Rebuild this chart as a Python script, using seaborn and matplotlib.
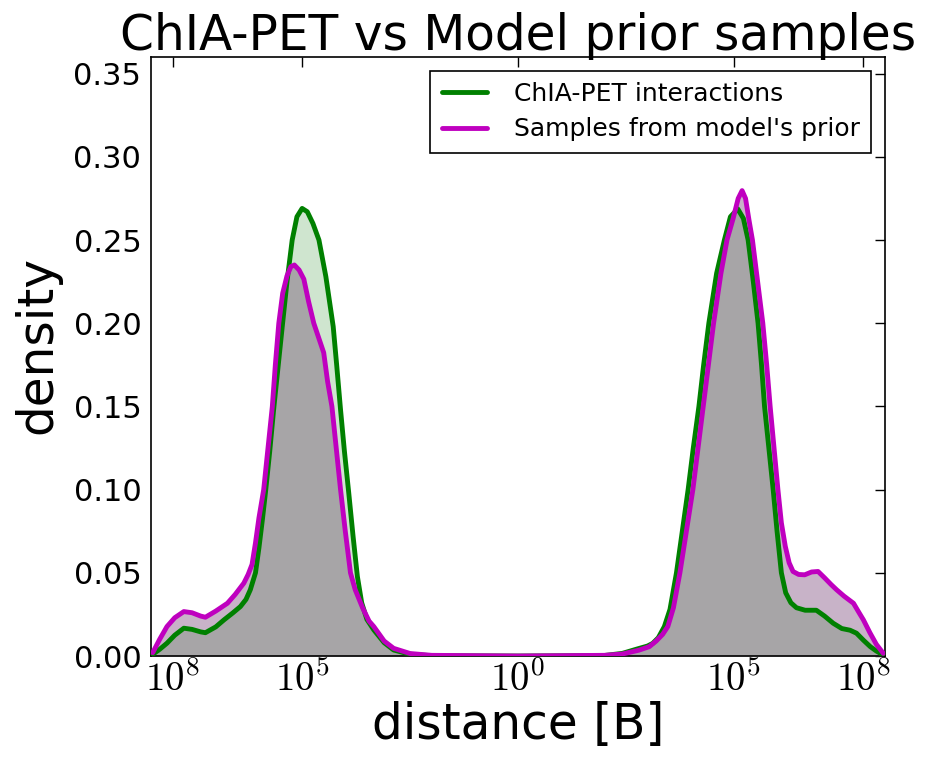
import numpy as np
import matplotlib
matplotlib.use("Agg")
import matplotlib.pyplot as plt
import seaborn as sns

# ---- data (signed log10 distance, density) ----
green_x = [-8.46, -8.3, -8.13, -7.95, -7.74, -7.55, -7.35, -7.24, -7.0, -6.81, -6.6, -6.43, -6.3,
           -6.2, -6.08, -6.0, -5.92, -5.85, -5.75, -5.66, -5.56, -5.46, -5.35, -5.23, -5.12, -5.0,
           -4.88, -4.75, -4.61, -4.45, -4.28, -4.2, -4.11, -4.02, -3.92, -3.82, -3.72, -3.62, -3.5,
           -3.34, -3.1, -2.88, -2.5, -2.0, 0.0,
           2.0, 2.42, 2.73, 3.0, 3.12, 3.25, 3.39, 3.52, 3.67, 3.8, 3.94, 4.06, 4.19, 4.30, 4.42,
           4.60, 4.78, 4.92, 5.09, 5.22, 5.33, 5.45, 5.56, 5.64, 5.71, 5.81, 5.91, 6.0, 6.10, 6.2,
           6.32, 6.45, 6.65, 6.91, 7.1, 7.30, 7.5, 7.69, 7.84, 8.0, 8.16, 8.3, 8.46]
green_y = [0.001, 0.004, 0.0077, 0.0125, 0.0167, 0.0160, 0.0145, 0.0140, 0.0175, 0.0217, 0.026, 0.0297, 0.034,
           0.0398, 0.050, 0.065, 0.082, 0.098, 0.123, 0.148, 0.173, 0.198, 0.225, 0.250, 0.264, 0.269,
           0.267, 0.260, 0.250, 0.228, 0.198, 0.175, 0.148, 0.123, 0.098, 0.072, 0.0478, 0.032, 0.022,
           0.0157, 0.008, 0.0036, 0.0010, 0.0002, 0.0,
           0.0003, 0.0016, 0.004, 0.006, 0.0076, 0.011, 0.0177, 0.028, 0.050, 0.074, 0.10, 0.125, 0.15, 0.175, 0.20,
           0.23, 0.25, 0.264, 0.2687, 0.263, 0.25, 0.225, 0.20, 0.175, 0.15, 0.125, 0.10, 0.075, 0.05, 0.038,
           0.032, 0.029, 0.0275, 0.0275, 0.024, 0.0197, 0.0165, 0.0155, 0.0137, 0.0095, 0.0056, 0.003, 0.0006]

magenta_x = [-8.46, -8.3, -8.13, -7.95, -7.74, -7.55, -7.35, -7.24, -7.0, -6.73, -6.55, -6.35, -6.25,
             -6.16, -6.08, -6.0, -5.89, -5.79, -5.69, -5.62, -5.54, -5.45, -5.35, -5.26, -5.18, -5.07,
             -4.96, -4.85, -4.73, -4.6, -4.5, -4.41, -4.31, -4.21, -4.11, -4.0, -3.88, -3.77, -3.6,
             -3.45, -3.34, -3.1, -2.88, -2.5, -2.0, 0.0,
             2.0, 2.42, 2.8, 3.04, 3.2, 3.35, 3.47, 3.6, 3.75, 3.9, 4.05, 4.17, 4.29, 4.41, 4.53,
             4.70, 4.84, 4.98, 5.10, 5.19, 5.27, 5.35, 5.43, 5.55, 5.67, 5.76, 5.84, 5.93, 6.02, 6.10,
             6.19, 6.28, 6.37, 6.5, 6.64, 6.8, 6.95, 7.1, 7.25, 7.38, 7.55, 7.77, 7.9, 8.0, 8.15, 8.3, 8.46]
magenta_y = [0.002, 0.010, 0.0177, 0.023, 0.0267, 0.026, 0.024, 0.0233, 0.027, 0.0317, 0.037, 0.0438, 0.049,
             0.055, 0.068, 0.083, 0.10, 0.125, 0.15, 0.175, 0.20, 0.218, 0.2285, 0.234, 0.235, 0.232,
             0.2265, 0.213, 0.20, 0.19, 0.1823, 0.165, 0.15, 0.125, 0.10, 0.075, 0.05, 0.0398, 0.029,
             0.021, 0.0177, 0.009, 0.0046, 0.0015, 0.0004, 0.0,
             0.0004, 0.0012, 0.0035, 0.0056, 0.009, 0.013, 0.0177, 0.029, 0.05, 0.075, 0.10, 0.125, 0.15, 0.175, 0.20,
             0.23, 0.25, 0.2627, 0.275, 0.2797, 0.275, 0.262, 0.25, 0.225, 0.20, 0.175, 0.15, 0.125, 0.10, 0.08,
             0.066, 0.056, 0.0508, 0.0490, 0.0488, 0.0505, 0.0508, 0.047, 0.043, 0.0398, 0.036, 0.0317, 0.026, 0.0217,
             0.014, 0.007, 0.0016]

series_labels = ["ChIA-PET interactions", "Samples from model's prior"]
xtick_pos = [-8, -5, 0, 5, 8]
xtick_labels = [r"$10^{8}$", r"$10^{5}$", r"$10^{0}$", r"$10^{5}$", r"$10^{8}$"]
ytick_pos = [0.00, 0.05, 0.10, 0.15, 0.20, 0.25, 0.30, 0.35]

# ---- style ----
sns.set_style("white")
plt.rcParams['font.family'] = ['DejaVu Sans']
plt.rcParams['mathtext.fontset'] = 'cm'
for k in ['text.color', 'axes.labelcolor', 'xtick.color', 'ytick.color', 'axes.edgecolor']:
    plt.rcParams[k] = 'black'

fig = plt.figure(figsize=(9.26, 7.58), dpi=100)
ax = fig.add_axes([151 / 926, 1 - 656 / 758, (885 - 151) / 926, (656 - 57) / 758])

LG = "#cfe5cf"
LP = "#c8b3c8"
GRAY = "#a7a5a7"

ax.fill_between(green_x, 0, green_y, color=LG, lw=0, zorder=1)
fm = ax.fill_between(magenta_x, 0, magenta_y, color=LP, lw=0, zorder=1.1)
fo = ax.fill_between(green_x, 0, green_y, color=GRAY, lw=0, zorder=1.2)
fo.set_clip_path(fm.get_paths()[0], ax.transData)

sns.lineplot(x=green_x, y=green_y, color="green", lw=3.5, label=series_labels[0],
             ax=ax, sort=False, estimator=None, zorder=3)
sns.lineplot(x=magenta_x, y=magenta_y, color="#bf00bf", lw=3.5, label=series_labels[1],
             ax=ax, sort=False, estimator=None, zorder=4)

ax.set_xlim(-8.5, 8.5)
ax.set_ylim(0, 0.36)
ax.set_xticks(xtick_pos)
ax.set_xticklabels(xtick_labels)
ax.set_yticks(ytick_pos)
ax.set_yticklabels([f"{v:.2f}" for v in ytick_pos])

ax.tick_params(axis='both', direction='in', top=True, right=True, length=7, width=1, color='black')
ax.tick_params(axis='x', labelsize=28, pad=3)
ax.tick_params(axis='y', labelsize=22, pad=7)
for s in ax.spines.values():
    s.set_color('black')
    s.set_linewidth(1.2)
    s.set_visible(True)

ax.set_title("ChIA-PET vs Model prior samples", fontsize=35, pad=5)
ax.set_xlabel("distance [B]", fontsize=35, labelpad=2)
ax.set_ylabel("density", fontsize=35, labelpad=6)
ax.yaxis.set_label_coords(-0.122, 0.52)

leg = ax.legend(loc="upper right", fontsize=18, frameon=True, fancybox=False,
                edgecolor="black", framealpha=1, borderaxespad=0.55,
                handlelength=1.8, handletextpad=1.1, borderpad=0.45, labelspacing=0.45)
leg.get_frame().set_linewidth(1.2)
for h in leg.get_lines():
    h.set_linewidth(3.5)

fig.savefig("out.png", dpi=100)
